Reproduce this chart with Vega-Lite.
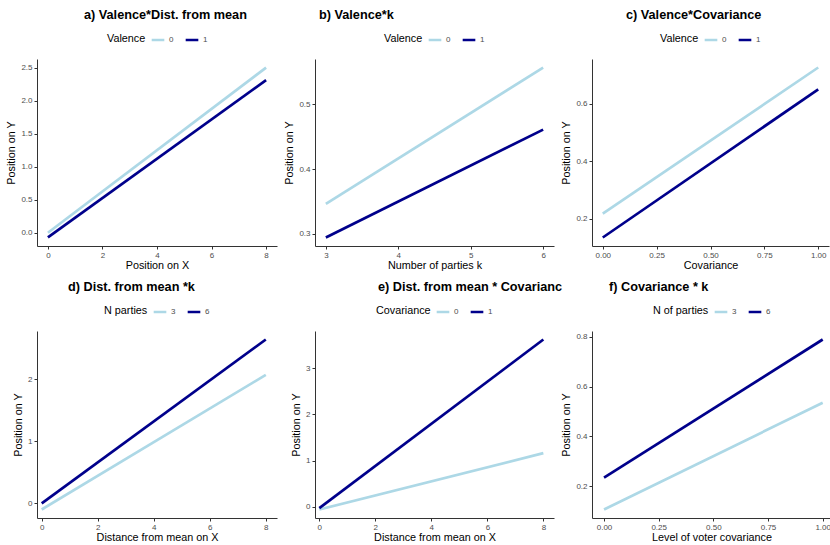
{
  "$schema": "https://vega.github.io/schema/vega-lite/v6.json",
  "background": "white",
  "padding": {"left": 5, "top": 9, "right": 0, "bottom": 0},
  "datasets": {
    "a": [{"x":0,"y":0.0,"g":"0"},{"x":8,"y":2.5,"g":"0"},{"x":0,"y":-0.07,"g":"1"},{"x":8,"y":2.31,"g":"1"}],
    "b": [{"x":3,"y":0.346,"g":"0"},{"x":6,"y":0.557,"g":"0"},{"x":3,"y":0.294,"g":"1"},{"x":6,"y":0.461,"g":"1"}],
    "c": [{"x":0,"y":0.217,"g":"0"},{"x":1,"y":0.726,"g":"0"},{"x":0,"y":0.134,"g":"1"},{"x":1,"y":0.65,"g":"1"}],
    "d": [{"x":0,"y":-0.1,"g":"3"},{"x":8,"y":2.07,"g":"3"},{"x":0,"y":0.0,"g":"6"},{"x":8,"y":2.64,"g":"6"}],
    "e": [{"x":0,"y":-0.06,"g":"0"},{"x":8,"y":1.16,"g":"0"},{"x":0,"y":-0.03,"g":"1"},{"x":8,"y":3.62,"g":"1"}],
    "f": [{"x":0,"y":0.106,"g":"3"},{"x":1,"y":0.535,"g":"3"},{"x":0,"y":0.234,"g":"6"},{"x":1,"y":0.789,"g":"6"}]
  },
  "spacing": 11,
  "vconcat": [
    {
      "bounds": "flush",
      "spacing": 38,
      "resolve": {"scale": {"color": "independent"}, "legend": {"color": "independent"}},
      "hconcat": [
        {
          "width": 240, "height": 187,
          "title": {"text": "a) Valence*Dist. from mean", "dx": 47},
          "data": {"name": "a"},
          "mark": {"type": "line", "strokeWidth": 2.7},
          "encoding": {
            "x": {"field": "x", "type": "quantitative", "scale": {"domain": [-0.4, 8.4], "nice": false, "zero": false}, "axis": {"values": [0,2,4,6,8], "title": "Position on X"}},
            "y": {"field": "y", "type": "quantitative", "scale": {"domain": [-0.2, 2.63], "nice": false, "zero": false}, "axis": {"values": [0,0.5,1,1.5,2,2.5], "format": ".1f", "title": "Position on Y"}},
            "color": {"field": "g", "type": "nominal", "scale": {"domain": ["0","1"], "range": ["#ADD8E6", "#00008B"]}, "legend": {"title": "Valence"}}
          }
        },
        {
          "width": 239, "height": 187,
          "title": {"text": "b) Valence*k", "dx": 4},
          "data": {"name": "b"},
          "mark": {"type": "line", "strokeWidth": 2.7},
          "encoding": {
            "x": {"field": "x", "type": "quantitative", "scale": {"domain": [2.85, 6.15], "nice": false, "zero": false}, "axis": {"values": [3,4,5,6], "title": "Number of parties k"}},
            "y": {"field": "y", "type": "quantitative", "scale": {"domain": [0.2809, 0.5702], "nice": false, "zero": false}, "axis": {"values": [0.3,0.4,0.5], "format": ".1f", "title": "Position on Y"}},
            "color": {"field": "g", "type": "nominal", "scale": {"domain": ["0","1"], "range": ["#ADD8E6", "#00008B"]}, "legend": {"title": "Valence"}}
          }
        },
        {
          "width": 237, "height": 187,
          "title": {"text": "c) Valence*Covariance", "dx": 34},
          "data": {"name": "c"},
          "mark": {"type": "line", "strokeWidth": 2.7},
          "encoding": {
            "x": {"field": "x", "type": "quantitative", "scale": {"domain": [-0.05, 1.05], "nice": false, "zero": false}, "axis": {"values": [0,0.25,0.5,0.75,1], "format": ".2f", "title": "Covariance"}},
            "y": {"field": "y", "type": "quantitative", "scale": {"domain": [0.1044, 0.7556], "nice": false, "zero": false}, "axis": {"values": [0.2,0.4,0.6], "format": ".1f", "title": "Position on Y"}},
            "color": {"field": "g", "type": "nominal", "scale": {"domain": ["0","1"], "range": ["#ADD8E6", "#00008B"]}, "legend": {"title": "Valence"}}
          }
        }
      ]
    },
    {
      "bounds": "flush",
      "spacing": 38,
      "resolve": {"scale": {"color": "independent"}, "legend": {"color": "independent"}},
      "hconcat": [
        {
          "width": 240, "height": 187,
          "title": {"text": "d) Dist. from mean *k", "dx": 31},
          "data": {"name": "d"},
          "mark": {"type": "line", "strokeWidth": 2.7},
          "encoding": {
            "x": {"field": "x", "type": "quantitative", "scale": {"domain": [-0.168, 8.4], "nice": false, "zero": false}, "axis": {"values": [0,2,4,6,8], "title": "Distance from mean on X"}},
            "y": {"field": "y", "type": "quantitative", "scale": {"domain": [-0.237, 2.777], "nice": false, "zero": false}, "axis": {"values": [0,1,2], "format": "d", "title": "Position on Y"}},
            "color": {"field": "g", "type": "nominal", "scale": {"domain": ["3","6"], "range": ["#ADD8E6", "#00008B"]}, "legend": {"title": "N parties"}}
          }
        },
        {
          "width": 239, "height": 187,
          "title": {"text": "e) Dist. from mean * Covarianc", "dx": 63},
          "data": {"name": "e"},
          "mark": {"type": "line", "strokeWidth": 2.7},
          "encoding": {
            "x": {"field": "x", "type": "quantitative", "scale": {"domain": [-0.154, 8.38], "nice": false, "zero": false}, "axis": {"values": [0,2,4,6,8], "title": "Distance from mean on X"}},
            "y": {"field": "y", "type": "quantitative", "scale": {"domain": [-0.244, 3.804], "nice": false, "zero": false}, "axis": {"values": [0,1,2,3], "format": "d", "title": "Position on Y"}},
            "color": {"field": "g", "type": "nominal", "scale": {"domain": ["0","1"], "range": ["#ADD8E6", "#00008B"]}, "legend": {"title": "Covariance"}}
          }
        },
        {
          "width": 239, "height": 187,
          "title": {"text": "f) Covariance * k", "dx": 17},
          "data": {"name": "f"},
          "mark": {"type": "line", "strokeWidth": 2.7},
          "encoding": {
            "x": {"field": "x", "type": "quantitative", "scale": {"domain": [-0.055, 1.038], "nice": false, "zero": false}, "axis": {"values": [0,0.25,0.5,0.75,1], "format": ".2f", "title": "Level of voter covariance"}},
            "y": {"field": "y", "type": "quantitative", "scale": {"domain": [0.0719, 0.8232], "nice": false, "zero": false}, "axis": {"values": [0.2,0.4,0.6,0.8], "format": ".1f", "title": "Position on Y"}},
            "color": {"field": "g", "type": "nominal", "scale": {"domain": ["3","6"], "range": ["#ADD8E6", "#00008B"]}, "legend": {"title": "N of parties"}}
          }
        }
      ]
    }
  ],
  "resolve": {"scale": {"color": "independent"}, "legend": {"color": "independent"}},
  "config": {
    "font": "Liberation Sans",
    "view": {"stroke": null},
    "axis": {"grid": false, "domainColor": "#333333", "tickColor": "#333333", "tickSize": 3, "labelColor": "#4D4D4D", "labelFontSize": 8, "titleFontSize": 10.8, "titleFontWeight": "normal", "titleColor": "#000000", "labelPadding": 2, "titlePadding": 4, "domainWidth": 1},
    "axisY": {"minExtent": 0},
    "axisX": {"minExtent": 0, "labelPadding": 2, "titlePadding": 0},
    "legend": {"orient": "top", "direction": "horizontal", "titleOrient": "left", "titleFontWeight": "normal", "titleFontSize": 10.8, "titleColor": "#000000", "labelFontSize": 8, "labelColor": "#4D4D4D", "symbolType": "stroke", "symbolStrokeWidth": 2.5, "symbolSize": 160, "offset": 14, "titlePadding": 4, "labelOffset": 3, "columnPadding": 6, "layout": {"top": {"anchor": "middle"}}},
    "title": {"fontSize": 12.7, "fontWeight": "bold", "anchor": "start", "frame": "group", "color": "#000000", "offset": 10}
  }
}
